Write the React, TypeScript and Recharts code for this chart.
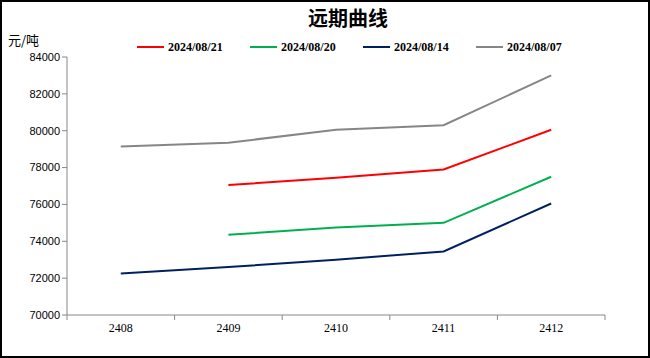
import React from 'react';
import { LineChart, Line, XAxis, YAxis } from 'recharts';

const months = ['2408', '2409', '2410', '2411', '2412'];
const aug21 = [null, 77050, 77450, 77900, 80050];
const aug20 = [null, 74350, 74750, 75000, 77500];
const aug14 = [72250, 72600, 73000, 73450, 76050];
const aug07 = [79150, 79350, 80050, 80300, 83000];
const yTicks = [70000, 72000, 74000, 76000, 78000, 80000, 82000, 84000];

const series = [
  { key: 'd21', name: '2024/08/21', color: '#FF0000', values: aug21 },
  { key: 'd20', name: '2024/08/20', color: '#00B050', values: aug20 },
  { key: 'd14', name: '2024/08/14', color: '#002060', values: aug14 },
  { key: 'd07', name: '2024/08/07', color: '#868686', values: aug07 },
];

const data = months.map((m, i) => {
  const row: Record<string, any> = { month: m };
  series.forEach((s) => {
    row[s.key] = s.values[i];
  });
  return row;
});

const axisColor = '#888888';

// category ticks with Excel-style marks at the band edges
const MonthTick = (props: any) => {
  const { x, y, payload, index, visibleTicksCount } = props;
  const off = payload.offset || 0;
  const last = index === visibleTicksCount - 1;
  return (
    <g>
      <line x1={x - off} x2={x - off} y1={y} y2={y + 5} stroke={axisColor} />
      {last && <line x1={x + off} x2={x + off} y1={y} y2={y + 5} stroke={axisColor} />}
      <text
        x={x}
        y={y + 17}
        textAnchor="middle"
        fontFamily="'Liberation Serif', serif"
        fontSize={12}
        fill="#000"
      >
        {payload.value}
      </text>
    </g>
  );
};

const LegendRow = () => (
  <div style={{ position: 'absolute', left: 0, top: 37, display: 'flex', paddingLeft: 135 }}>
    {series.map((s) => (
      <div key={s.key} style={{ width: 113, display: 'flex', alignItems: 'center' }}>
        <span style={{ display: 'inline-block', width: 27, height: 2.5, background: s.color, marginRight: 4 }} />
        <span
          style={{
            fontFamily: "'Liberation Serif', serif",
            fontWeight: 'bold',
            fontSize: 12,
            lineHeight: '16px',
            color: '#000',
          }}
        >
          {s.name}
        </span>
      </div>
    ))}
  </div>
);

export default function App() {
  return (
    <div
      style={{
        position: 'absolute',
        left: 0,
        top: 0,
        width: 650,
        height: 358,
        boxSizing: 'border-box',
        border: '2px solid #000',
        background: '#fff',
      }}
    >
      <div
        style={{
          position: 'absolute',
          left: 0,
          top: 2,
          width: 692,
          textAlign: 'center',
          fontFamily: "'Noto Sans CJK SC', sans-serif",
          fontWeight: 'bold',
          fontSize: 20,
          lineHeight: '28px',
          color: '#000',
        }}
      >
        远期曲线
      </div>
      <div
        style={{
          position: 'absolute',
          left: 6,
          top: 30,
          fontFamily: "'Noto Sans CJK SC', sans-serif",
          fontSize: 13,
          lineHeight: '16px',
          color: '#000',
        }}
      >
        元/吨
      </div>
      <LegendRow />
      <LineChart width={646} height={354} data={data} margin={{ top: 55, right: 43, left: 0, bottom: 0 }}>
        <XAxis
          dataKey="month"
          scale="band"
          height={41}
          stroke={axisColor}
          tickLine={false}
          tickSize={0}
          tickMargin={0}
          tick={<MonthTick />}
        />
        <YAxis
          width={65}
          domain={[70000, 84000]}
          ticks={yTicks}
          stroke={axisColor}
          tickSize={5}
          tickMargin={2}
          tick={{ fontFamily: "'Liberation Sans', Arial, sans-serif", fontSize: 11, fill: '#000' }}
        />
        {series.map((s) => (
          <Line
            key={s.key}
            dataKey={s.key}
            name={s.name}
            stroke={s.color}
            strokeWidth={2}
            dot={false}
            activeDot={false}
            isAnimationActive={false}
          />
        ))}
      </LineChart>
    </div>
  );
}
